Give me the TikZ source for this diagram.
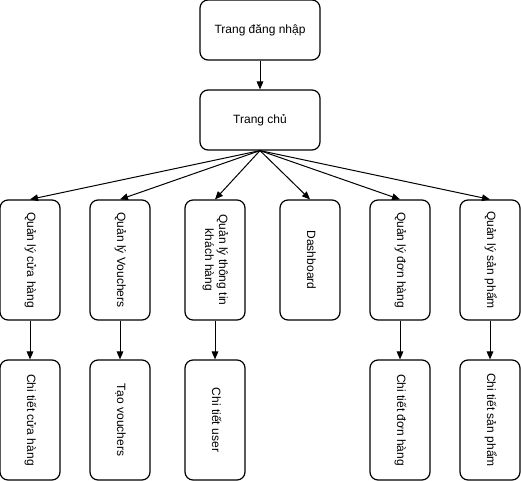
\documentclass[tikz,border=0pt]{standalone}
\usepackage{fontspec}
\setmainfont{Liberation Sans}
\usetikzlibrary{arrows.meta}
\tikzset{
  box/.style={draw, line width=0.9pt, rounded corners=6pt, inner sep=0pt, align=center,
    font=\fontsize{9}{10.5}\selectfont},
  hbox/.style={box, minimum width=90pt, minimum height=45pt},
  vbox/.style={box, minimum width=45pt, minimum height=90pt},
  arr/.style={line width=0.75pt, -{Triangle[length=6pt,width=5pt]}}
}
\newcommand{\vtext}[1]{\rotatebox{-90}{\begin{tabular}{@{}c@{}}#1\end{tabular}}}
\begin{document}
\begin{tikzpicture}[x=0.75pt,y=-0.75pt]
\useasboundingbox (0,0) rectangle (521,481);
% top level
\node[hbox] (login) at (260,30) {Trang đăng nhập};
\node[hbox] (home) at (260,120) {Trang chủ};
% management pages
\node[vbox] (m1) at (30,260) {\vtext{Quản lý cửa hàng}};
\node[vbox] (m2) at (120,260) {\vtext{Quản lý Vouchers}};
\node[vbox] (m3) at (215,260) {\vtext{Quản lý thông tin\\khách hàng}};
\node[vbox] (m4) at (310,260) {\vtext{Dashboard}};
\node[vbox] (m5) at (400,260) {\vtext{Quản lý đơn hàng}};
\node[vbox] (m6) at (490,260) {\vtext{Quản lý sản phẩm}};
% detail pages
\node[vbox] (d1) at (30,420) {\vtext{Chi tiết cửa hàng}};
\node[vbox] (d2) at (120,420) {\vtext{Tạo vouchers}};
\node[vbox] (d3) at (215,420) {\vtext{Chi tiết user}};
\node[vbox] (d5) at (400,420) {\vtext{Chi tiết đơn hàng}};
\node[vbox] (d6) at (490,420) {\vtext{Chi tiết sản phẩm}};
% connectors
\draw[arr] (login.south) -- (home.north);
\foreach \m in {m1,m2,m3,m4,m5,m6}
  \draw[arr] (home.south) -- (\m.north);
\foreach \a/\b in {m1/d1,m2/d2,m3/d3,m5/d5,m6/d6}
  \draw[arr] (\a.south) -- (\b.north);
\end{tikzpicture}
\end{document}
